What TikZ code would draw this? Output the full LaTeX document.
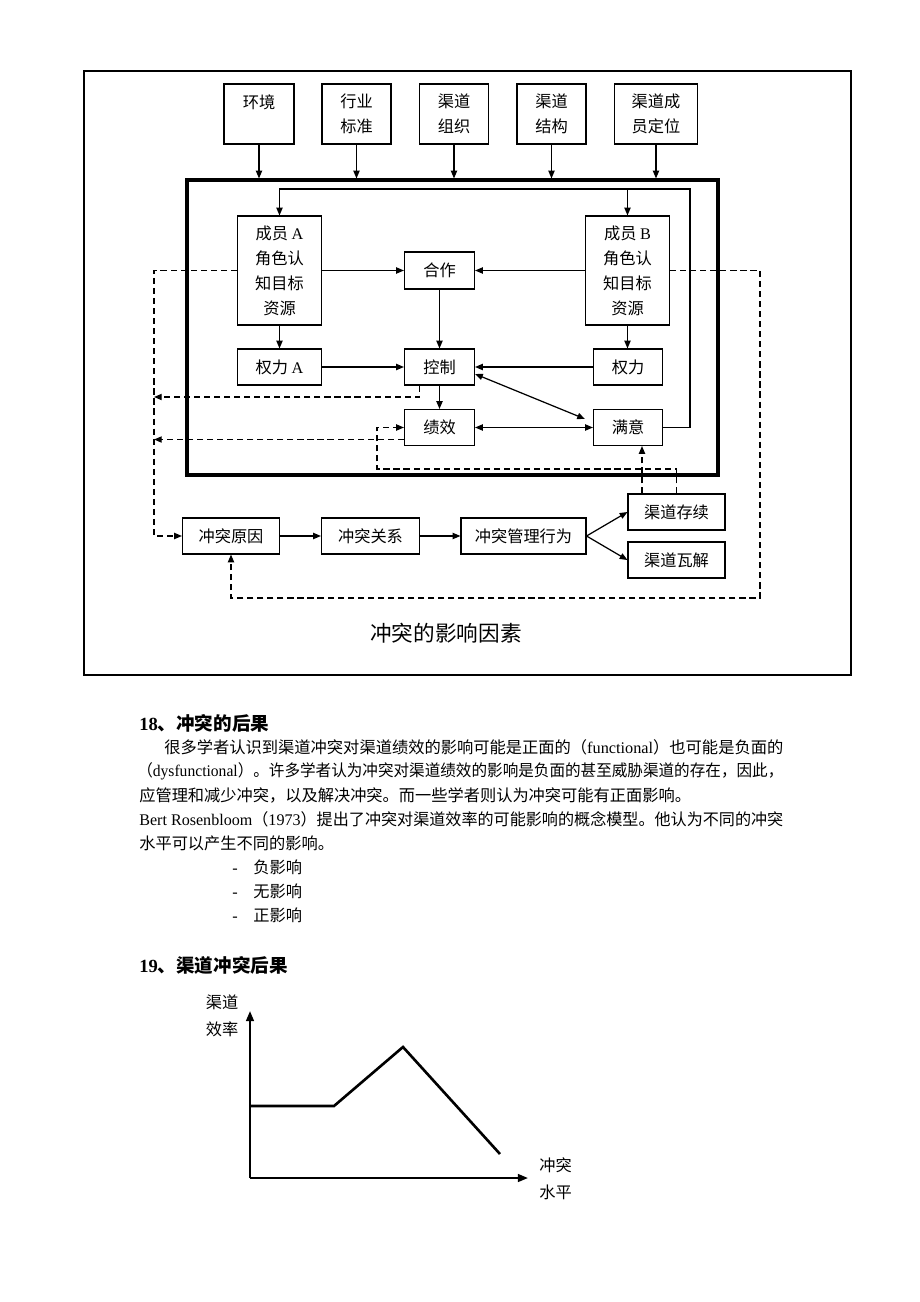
\documentclass[tikz,border=0pt]{standalone}
\usepackage{fontspec}
\setmainfont{Noto Sans CJK SC}
\newfontfamily\tmsf{Liberation Serif}
\newcommand\tms[1]{{\tmsf #1}}
\usetikzlibrary{arrows.meta}
\newdimen\upx \upx=0.6471pt
\begin{document}
\begin{tikzpicture}[x=0.6471pt,y=-0.6471pt,
  >={Triangle[length=5pt,width=4pt]},
  box/.style={draw,line width=0.7pt,inner sep=0pt,align=center,font=\fontsize{10.5}{16.2}\selectfont},
  ln/.style={line width=0.8pt},
  dsh/.style={line width=0.8pt,dash pattern=on 4pt off 2.5pt},
  txt/.style={anchor=west,inner sep=0pt,font=\fontsize{10.5}{16}\selectfont},
  hd/.style={anchor=west,inner sep=0pt,font=\fontsize{12}{14}\selectfont\bfseries},
  lbl/.style={inner sep=0pt,align=center,font=\fontsize{10.5}{17.5}\selectfont}]
\fill[white] (0,0) rectangle (920,1302);
\useasboundingbox (0,0) rectangle (920,1302);
% outer frame
\draw[line width=0.7pt] (84,71) rectangle (851,675);
% top boxes
\node[box,minimum width=70\upx,minimum height=60\upx] (hj) at (259,114) {环境\\\mbox{}};
\node[box,minimum width=69\upx,minimum height=60\upx] (hy) at (356.5,114) {行业\\标准};
\node[box,minimum width=69\upx,minimum height=60\upx] (zz) at (454,114) {渠道\\组织};
\node[box,minimum width=69\upx,minimum height=60\upx] (jg) at (551.5,114) {渠道\\结构};
\node[box,minimum width=83\upx,minimum height=60\upx] (dw) at (656,114) {渠道成\\员定位};
% thick frame
\node[draw,line width=2pt,inner sep=0pt,minimum width=531\upx,minimum height=295\upx] (big) at (452.5,327.5) {};
\foreach \n in {hj,hy,zz,jg,dw}{\draw[ln,->] (\n.south) -- (\n.south |- big.north);}
% inner nodes
\node[box,minimum width=84\upx,minimum height=109\upx] (cyA) at (279.5,270.5) {成员 \tms{A}\\角色认\\知目标\\资源};
\node[box,minimum width=84\upx,minimum height=109\upx] (cyB) at (627.5,270.5) {成员 \tms{B}\\角色认\\知目标\\资源};
\node[box,minimum width=70\upx,minimum height=37\upx] (hz) at (439.5,270.5) {合作};
\node[box,minimum width=84\upx,minimum height=36\upx] (qlA) at (279.5,367) {权力 \tms{A}};
\node[box,minimum width=70\upx,minimum height=36\upx] (kz) at (439.5,367) {控制};
\node[box,minimum width=69\upx,minimum height=36\upx] (ql) at (628,367) {权力};
\node[box,minimum width=70\upx,minimum height=36\upx] (jx) at (439.5,427.5) {绩效};
\node[box,minimum width=69\upx,minimum height=36\upx] (my) at (628,427.5) {满意};
% bottom row
\node[box,minimum width=97\upx,minimum height=36\upx] (ctyy) at (231,536) {冲突原因};
\node[box,minimum width=98\upx,minimum height=36\upx] (ctgx) at (370.5,536) {冲突关系};
\node[box,minimum width=125\upx,minimum height=36\upx] (gl) at (523.5,536) {冲突管理行为};
\node[box,minimum width=97\upx,minimum height=36\upx] (cx) at (676.5,512) {渠道存续};
\node[box,minimum width=97\upx,minimum height=36\upx] (wj) at (676.5,560) {渠道瓦解};
\node[inner sep=0pt,font=\fontsize{14}{16}\selectfont] (cap) at (446,633) {冲突的影响因素};
% solid connectors
\draw[ln,->] (cyA.east) -- (hz.west);
\draw[ln,->] (cyB.west) -- (hz.east);
\draw[ln,->] (hz.south) -- (kz.north);
\draw[ln,->] (cyA.south) -- (qlA.north);
\draw[ln,->] (cyB.south) -- (cyB.south |- ql.north);
\draw[ln,->] (qlA.east) -- (kz.west);
\draw[ln,->] (ql.west) -- (kz.east);
\draw[ln,->] (kz.south) -- (jx.north);
\draw[ln,<->] ([yshift=-7\upx]kz.east) -- ([xshift=-8\upx,yshift=-10\upx]my.north west);
\draw[ln,<->] (jx.east) -- (my.west);
\coordinate (T) at (690,189);
\draw[ln,->] (my.east) -| (T) -| (cyA.north);
\draw[ln,->] (cyB.north |- T) -- (cyB.north);
\draw[ln,->] (ctyy.east) -- (ctgx.west);
\draw[ln,->] (ctgx.east) -- (gl.west);
\draw[ln,->] (gl.east) -- (cx.west);
\draw[ln,->] (gl.east) -- (wj.west);
% dashed connectors
\coordinate (LA) at (154,397);
\coordinate (LB) at (154,439.5);
\coordinate (Q) at (377,469);
\coordinate (R) at (760,598);
\draw[dsh,->] (cyA.west) -- ++(-83,0) |- (ctyy.west);
\draw[dsh,->] ([xshift=-20\upx]kz.south) |- (LA);
\draw[dsh,->] ([yshift=-12\upx]jx.west) -- (LB);
\draw[dsh,->] (cx.north) |- (Q) |- (jx.west);
\draw[dsh,->] ([xshift=-34.5\upx]cx.north) -- ([xshift=-34.5\upx]cx.north |- my.south);
\draw[dsh,->] (cyB.east) -| (R) -| (ctyy.south);
% text
\node[hd] (h18) at (139,723) {\tms{18}、冲突的后果};
\node[txt] (l1) at (164,747) {\resizebox{619\upx}{\height}{很多学者认识到渠道冲突对渠道绩效的影响可能是正面的（\tms{functional}）也可能是负面的}};
\node[txt] (l2) at (137,771) {\resizebox{646\upx}{\height}{（\tms{dysfunctional}）。许多学者认为冲突对渠道绩效的影响是负面的甚至威胁渠道的存在，因此，}};
\node[txt] (l3) at (139,795) {应管理和减少冲突，以及解决冲突。而一些学者则认为冲突可能有正面影响。};
\node[txt] (l4) at (139,819) {\resizebox{644\upx}{\height}{\tms{Bert Rosenbloom}（\tms{1973}）提出了冲突对渠道效率的可能影响的概念模型。他认为不同的冲突}};
\node[txt] (l5) at (139,843) {水平可以产生不同的影响。};
\node[txt] (b1) at (232,867) {\makebox[21\upx][l]{\tms{-}}负影响};
\node[txt] (b2) at (232,891) {\makebox[21\upx][l]{\tms{-}}无影响};
\node[txt] (b3) at (232,915) {\makebox[21\upx][l]{\tms{-}}正影响};
\node[hd] (h19) at (139,965) {\tms{19}、渠道冲突后果};
% chart
\coordinate (O) at (250,1178);
\draw[line width=1.3pt,-{Triangle[length=6.5pt,width=5pt]}] (O) -- (250,1011);
\draw[line width=1.3pt,-{Triangle[length=6.5pt,width=5pt]}] (O) -- (528,1178);
\draw[line width=1.7pt,line join=miter] (250,1106) -- (334,1106) -- (403,1047) -- (500,1154);
\node[lbl] (yl) at (222,1016) {渠道\\效率};
\node[lbl] (xl) at (555.5,1178.5) {冲突\\水平};
\end{tikzpicture}
\end{document}
